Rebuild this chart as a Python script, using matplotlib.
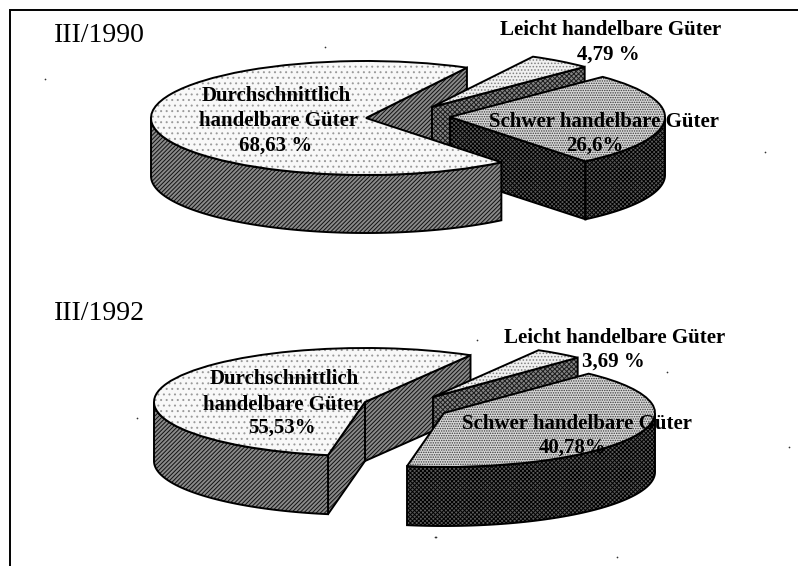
import numpy as np
import matplotlib
matplotlib.use("Agg")
import matplotlib.pyplot as plt
from matplotlib.patches import Wedge
from matplotlib.transforms import Affine2D

categories = ["Durchschnittlich handelbare Güter", "Leicht handelbare Güter", "Schwer handelbare Güter"]
values_1990 = [68.63, 4.79, 26.6]
values_1992 = [55.53, 3.69, 40.78]
titles = ["III/1990", "III/1992"]
speck_x = [325, 45, 765, 137, 435, 617, 477, 667, 789, 436]
speck_y = [47, 79, 152, 418, 537, 557, 340, 372, 447, 537]

plt.rcParams["font.family"] = ["Liberation Serif", "DejaVu Serif"]
plt.rcParams["hatch.linewidth"] = 0.7

fig = plt.figure(figsize=(7.98, 5.66), dpi=100)
ax = fig.add_axes([0, 0, 1, 1])
ax.set_xlim(0, 798)
ax.set_ylim(566, 0)
ax.axis("off")

# style per slice: top face, side face
STYLE = {
    0: dict(top=("#f8f8f8", "#9a9a9a", "..."), side=("#8a8a8a", "#111111", "////////")),
    1: dict(top=("#f0f0f0", "#808080", "....."), side=("#858585", "#1c1c1c", "xxxxxxx")),
    2: dict(top=("#d8d8d8", "#3a3a3a", "......."), side=("#5a5a5a", "#000000", "xxxxxxxx")),
}


def poly(xs, ys, style, z):
    fc, hc, hatch = style
    ax.fill(xs, ys, facecolor=fc, edgecolor=hc, hatch=hatch, linewidth=0, zorder=z)
    ax.fill(xs, ys, facecolor="none", edgecolor="black", linewidth=1.4, zorder=z + 0.1)


def ellipse_pt(c, rx, ry, a):
    a = np.radians(a)
    return c[0] + rx * np.cos(a), c[1] - ry * np.sin(a)


def slice3d(idx, c, t1, t2, rx, ry, depth, z_cut, z_body):
    """Slice running from t1 to t2 degrees (t1 < t2) on an ellipse with extrusion."""
    s = STYLE[idx]
    # radial cut faces: only those turned towards the viewer
    visible = [(t1, np.cos(np.radians(t1)) > 0), (t2, np.cos(np.radians(t2)) < 0)]
    for t, show in visible:
        if show:
            px, py = ellipse_pt(c, rx, ry, t)
            poly([c[0], px, px, c[0]], [c[1], py, py + depth, c[1] + depth], s["side"], z_cut)
    # outer rim: the part facing the viewer (sin < 0)
    k0 = np.ceil((t1 - 360) / 360)
    for k in (k0 - 1, k0, k0 + 1):
        lo = max(t1, 180 + 360 * k)
        hi = min(t2, 360 + 360 * k)
        if hi > lo:
            a = np.linspace(lo, hi, 120)
            xs, ys = ellipse_pt(c, rx, ry, a)
            poly(np.r_[xs, xs[::-1]], np.r_[ys, ys[::-1] + depth], s["side"], z_body)
    # top face
    tr = Affine2D().scale(rx, -ry).translate(*c) + ax.transData
    fc, hc, hatch = s["top"]
    ax.add_patch(Wedge((0, 0), 1, t1, t2, transform=tr, facecolor=fc, edgecolor=hc,
                       hatch=hatch, linewidth=0, zorder=z_body + 0.2))
    ax.add_patch(Wedge((0, 0), 1, t1, t2, transform=tr, facecolor="none", edgecolor="black",
                       linewidth=1.4, zorder=z_body + 0.3))


def pie3d(vals, start, centers, rx, ry, depth, zs):
    # clockwise order from start: small (1), big (2), main (0)
    a = start
    for idx in (1, 2, 0):
        sweep = vals[idx] / sum(vals) * 360
        z_cut, z_body = zs[idx]
        slice3d(idx, centers[idx], a - sweep, a, rx, ry, depth, z_cut, z_body)
        a -= sweep


pie3d(values_1990, 62, {0: (366, 118), 1: (432, 107), 2: (450, 117)}, 215, 57, 58,
      {0: (1, 7), 1: (2, 3), 2: (4, 5)})
pie3d(values_1992, 60, {0: (365, 402), 1: (433, 397), 2: (444, 413)}, 211, 54, 59,
      {0: (1, 2), 1: (3, 4), 2: (5, 6)})

# frame: only top and left survive in the scan
ax.plot([10, 10, 798], [566, 10, 10], color="black", lw=1.4, zorder=20, solid_joinstyle="miter")
ax.scatter(speck_x, speck_y, s=1.5, color="#333333", linewidths=0, zorder=1)

ax.text(54, 42, titles[0], fontsize=20, zorder=30)
ax.text(54, 320, titles[1], fontsize=20, zorder=30)

lab = dict(fontsize=15, fontweight="bold", ha="center", va="baseline", zorder=30)
ax.text(276, 101, "Durchschnittlich", **lab)
ax.text(279, 126, "handelbare Güter", **lab)
ax.text(276, 151, "68,63 %", **lab)
ax.text(611, 35, "Leicht handelbare Güter", **lab)
ax.text(608, 60, "4,79 %", **lab)
ax.text(604, 127, "Schwer handelbare Güter", **lab)
ax.text(595, 151, "26,6%", **lab)

ax.text(284, 384, "Durchschnittlich", **lab)
ax.text(283, 410, "handelbare Güter", **lab)
ax.text(282, 433, "55,53%", **lab)
ax.text(615, 343, "Leicht handelbare Güter", **lab)
ax.text(613, 367, "3,69 %", **lab)
ax.text(577, 429, "Schwer handelbare Güter", **lab)
ax.text(573, 453, "40,78%", **lab)

fig.savefig("out.png", dpi=100)
